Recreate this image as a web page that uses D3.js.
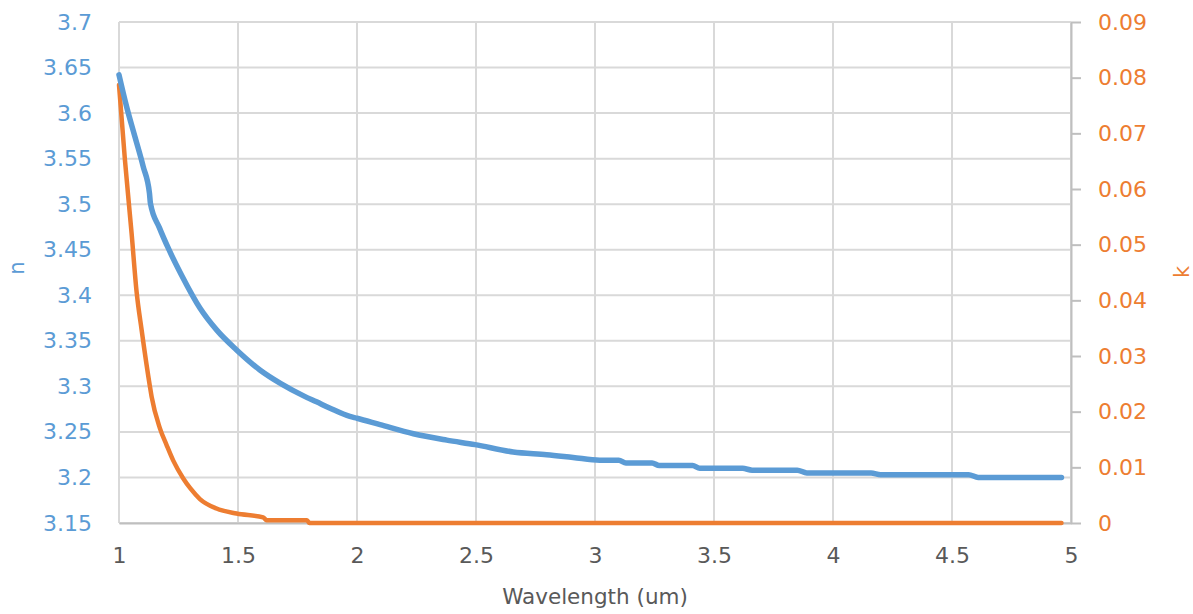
<!DOCTYPE html>
<html>
<head>
<meta charset="utf-8">
<script src="https://cdn.jsdelivr.net/npm/d3@7"></script>
<style>
	body { margin: 0; background: #fff; }
	text { font-family: "DejaVu Sans", sans-serif; }
</style>
</head>
<body>
<svg id="chart" width="1193" height="614"></svg>
<script>
// refractive index n (left axis)
var nWavelength = [1.000, 1.032, 1.067, 1.102, 1.128, 1.132, 1.170, 1.210, 1.263, 1.340, 1.410, 1.494, 1.592, 1.680, 1.780, 1.830, 1.887, 1.970, 2.000, 2.097, 2.237, 2.377, 2.496, 2.656, 2.797, 2.908, 3.020, 3.100, 3.130, 3.240, 3.270, 3.410, 3.440, 3.620, 3.660, 3.850, 3.890, 4.160, 4.200, 4.570, 4.610, 4.960];
var nValues = [3.642, 3.607, 3.574, 3.541, 3.512, 3.501, 3.474, 3.450, 3.422, 3.386, 3.362, 3.340, 3.318, 3.303, 3.289, 3.283, 3.276, 3.267, 3.265, 3.258, 3.248, 3.241, 3.236, 3.228, 3.225, 3.222, 3.219, 3.219, 3.216, 3.216, 3.213, 3.213, 3.210, 3.210, 3.208, 3.208, 3.205, 3.205, 3.203, 3.203, 3.200, 3.200];

// extinction coefficient k (right axis)
var kWavelength = [1.000, 1.025, 1.053, 1.074, 1.095, 1.130, 1.137, 1.172, 1.200, 1.228, 1.270, 1.300, 1.340, 1.410, 1.494, 1.606, 1.620, 1.790, 1.800, 4.960];
var kValues = [0.0787, 0.0652, 0.0520, 0.0415, 0.0347, 0.0245, 0.0227, 0.0170, 0.0140, 0.0112, 0.0080, 0.0062, 0.0043, 0.0026, 0.0017, 0.0010, 0.0005, 0.0005, 0.0, 0.0];

var xTicks = [1, 1.5, 2, 2.5, 3, 3.5, 4, 4.5, 5];
var nTicks = [3.15, 3.2, 3.25, 3.3, 3.35, 3.4, 3.45, 3.5, 3.55, 3.6, 3.65, 3.7];
var kTicks = [0, 0.01, 0.02, 0.03, 0.04, 0.05, 0.06, 0.07, 0.08, 0.09];

var blue = "#5b9bd5", orange = "#ed7d31", grid = "#d9d9d9", axisGray = "#bfbfbf", labelGray = "#595959";

var margin = {top: 22, right: 122, bottom: 91, left: 119};
var svg = d3.select("#chart"),
	width = +svg.attr("width") - margin.left - margin.right,
	height = +svg.attr("height") - margin.top - margin.bottom;

var x = d3.scaleLinear().domain([1, 5]).range([0, width]);
var yN = d3.scaleLinear().domain([3.15, 3.7]).range([height, 0]);
var yK = d3.scaleLinear().domain([0, 0.09]).range([height, 0]);

var g = svg.append("g").attr("transform", "translate(" + margin.left + "," + margin.top + ")");

// gridlines
g.append("g").selectAll("line").data(nTicks).join("line")
	.attr("x1", 0).attr("x2", width)
	.attr("y1", function(d) { return yN(d); }).attr("y2", function(d) { return yN(d); })
	.attr("stroke", grid).attr("stroke-width", 2);
g.append("g").selectAll("line").data(xTicks).join("line")
	.attr("x1", function(d) { return x(d); }).attr("x2", function(d) { return x(d); })
	.attr("y1", 0).attr("y2", height)
	.attr("stroke", grid).attr("stroke-width", 2);

// left axis (labels only)
var leftAxis = g.append("g")
	.call(d3.axisLeft(yN).tickValues(nTicks).tickSize(0).tickPadding(27).tickFormat(d3.format("")));
leftAxis.select(".domain").remove();
leftAxis.selectAll("text").attr("fill", blue).style("font-size", "22px");

// bottom axis
var bottomAxis = g.append("g").attr("transform", "translate(0," + height + ")")
	.call(d3.axisBottom(x).tickValues(xTicks).tickSize(0).tickPadding(24).tickFormat(d3.format("")));
bottomAxis.select(".domain").attr("stroke", axisGray).attr("stroke-width", 2);
bottomAxis.selectAll("text").attr("fill", labelGray).style("font-size", "22px");

// right axis with outside ticks
var rightAxis = g.append("g").attr("transform", "translate(" + width + ",0)")
	.call(d3.axisRight(yK).tickValues(kTicks).tickSize(10).tickSizeOuter(0).tickPadding(17).tickFormat(d3.format("")));
rightAxis.select(".domain").attr("stroke", axisGray).attr("stroke-width", 2);
rightAxis.selectAll(".tick line").attr("stroke", axisGray).attr("stroke-width", 2);
rightAxis.selectAll("text").attr("fill", orange).style("font-size", "22px");

// curves (smoothed like the spreadsheet renders them)
var nLine = d3.line()
	.curve(d3.curveMonotoneX)
	.x(function(d, i) { return x(nWavelength[i]); })
	.y(function(d) { return yN(d); });
var kLine = d3.line()
	.curve(d3.curveMonotoneX)
	.x(function(d, i) { return x(kWavelength[i]); })
	.y(function(d) { return yK(d); });

g.append("path").datum(kValues)
	.attr("d", kLine)
	.attr("fill", "none").attr("stroke", orange).attr("stroke-width", 4.5)
	.attr("stroke-linejoin", "round").attr("stroke-linecap", "round");
g.append("path").datum(nValues)
	.attr("d", nLine)
	.attr("fill", "none").attr("stroke", blue).attr("stroke-width", 5.5)
	.attr("stroke-linejoin", "round").attr("stroke-linecap", "round");

// axis titles
svg.append("text")
	.attr("x", margin.left + width / 2).attr("y", 604)
	.attr("text-anchor", "middle").attr("fill", labelGray)
	.style("font-size", "21.5px").text("Wavelength (um)");
svg.append("text")
	.attr("transform", "translate(24,268) rotate(-90)")
	.attr("text-anchor", "middle").attr("fill", blue)
	.style("font-size", "21px").text("n");
svg.append("text")
	.attr("transform", "translate(1189,272) rotate(-90)")
	.attr("text-anchor", "middle").attr("fill", orange)
	.style("font-size", "21px").text("k");
</script>
</body>
</html>
